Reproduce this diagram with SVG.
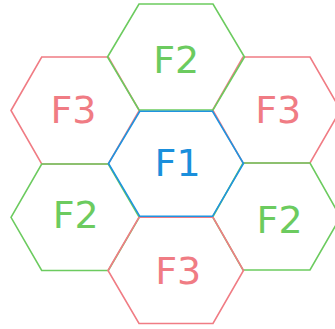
<svg xmlns="http://www.w3.org/2000/svg" width="335" height="329" viewBox="0 0 335 329">
<style>
.hex{fill:none;stroke-width:1.6;stroke-linejoin:miter}
.g{stroke:#6ccb5f}
.r{stroke:#f07c84}
.b{stroke:#1f94e0}
text{font-family:"DejaVu Sans",Verdana,sans-serif;font-size:38px;text-anchor:middle}
.tg{fill:#6ccb5f}
.tr{fill:#f07c84}
.tb{fill:#1a8fdc}
</style>
<rect width="335" height="329" fill="#ffffff"/>
<g id="hex-left-top">
<polygon class="hex r" points="11,110.5 41.7,57 108.3,57 139.3,110.5 108.3,164 41.7,164"/>
<text class="tr" x="73.5" y="123.3">F3</text>
</g>
<g id="hex-right-top">
<polygon class="hex r" points="212.7,110 243,57 310,57 340.5,110 310,163 243,163"/>
<text class="tr" x="278.3" y="123.3">F3</text>
</g>
<g id="hex-left-bottom">
<polygon class="hex g" points="11,217.3 41.7,164 108.3,164 139.3,217.3 108.3,270.5 41.7,270.5"/>
<text class="tg" x="75.8" y="228.3">F2</text>
</g>
<g id="hex-right-bottom">
<polygon class="hex g" points="212.7,217 243,163 310,163 340.5,217 310,270 243,270"/>
<text class="tg" x="279.6" y="232.7">F2</text>
</g>
<g id="hex-top">
<polygon class="hex g" points="107.5,57 139,4 213,4 244.5,57 213,110 139,110"/>
<text class="tg" x="176.3" y="72.7">F2</text>
</g>
<g id="hex-bottom">
<polygon class="hex r" points="108,270.5 139,217.3 213,217.3 243.5,270.5 213,323.5 139,323.5"/>
<text class="tr" x="178.3" y="284">F3</text>
</g>
<g id="hex-center">
<polygon class="hex b" points="108.5,163.5 139.8,111.3 212.5,111.3 243.5,163.5 212.5,216.3 139.8,216.3"/>
<text class="tb" x="177.6" y="176">F1</text>
</g>
<g id="connectors"></g>
</svg>
